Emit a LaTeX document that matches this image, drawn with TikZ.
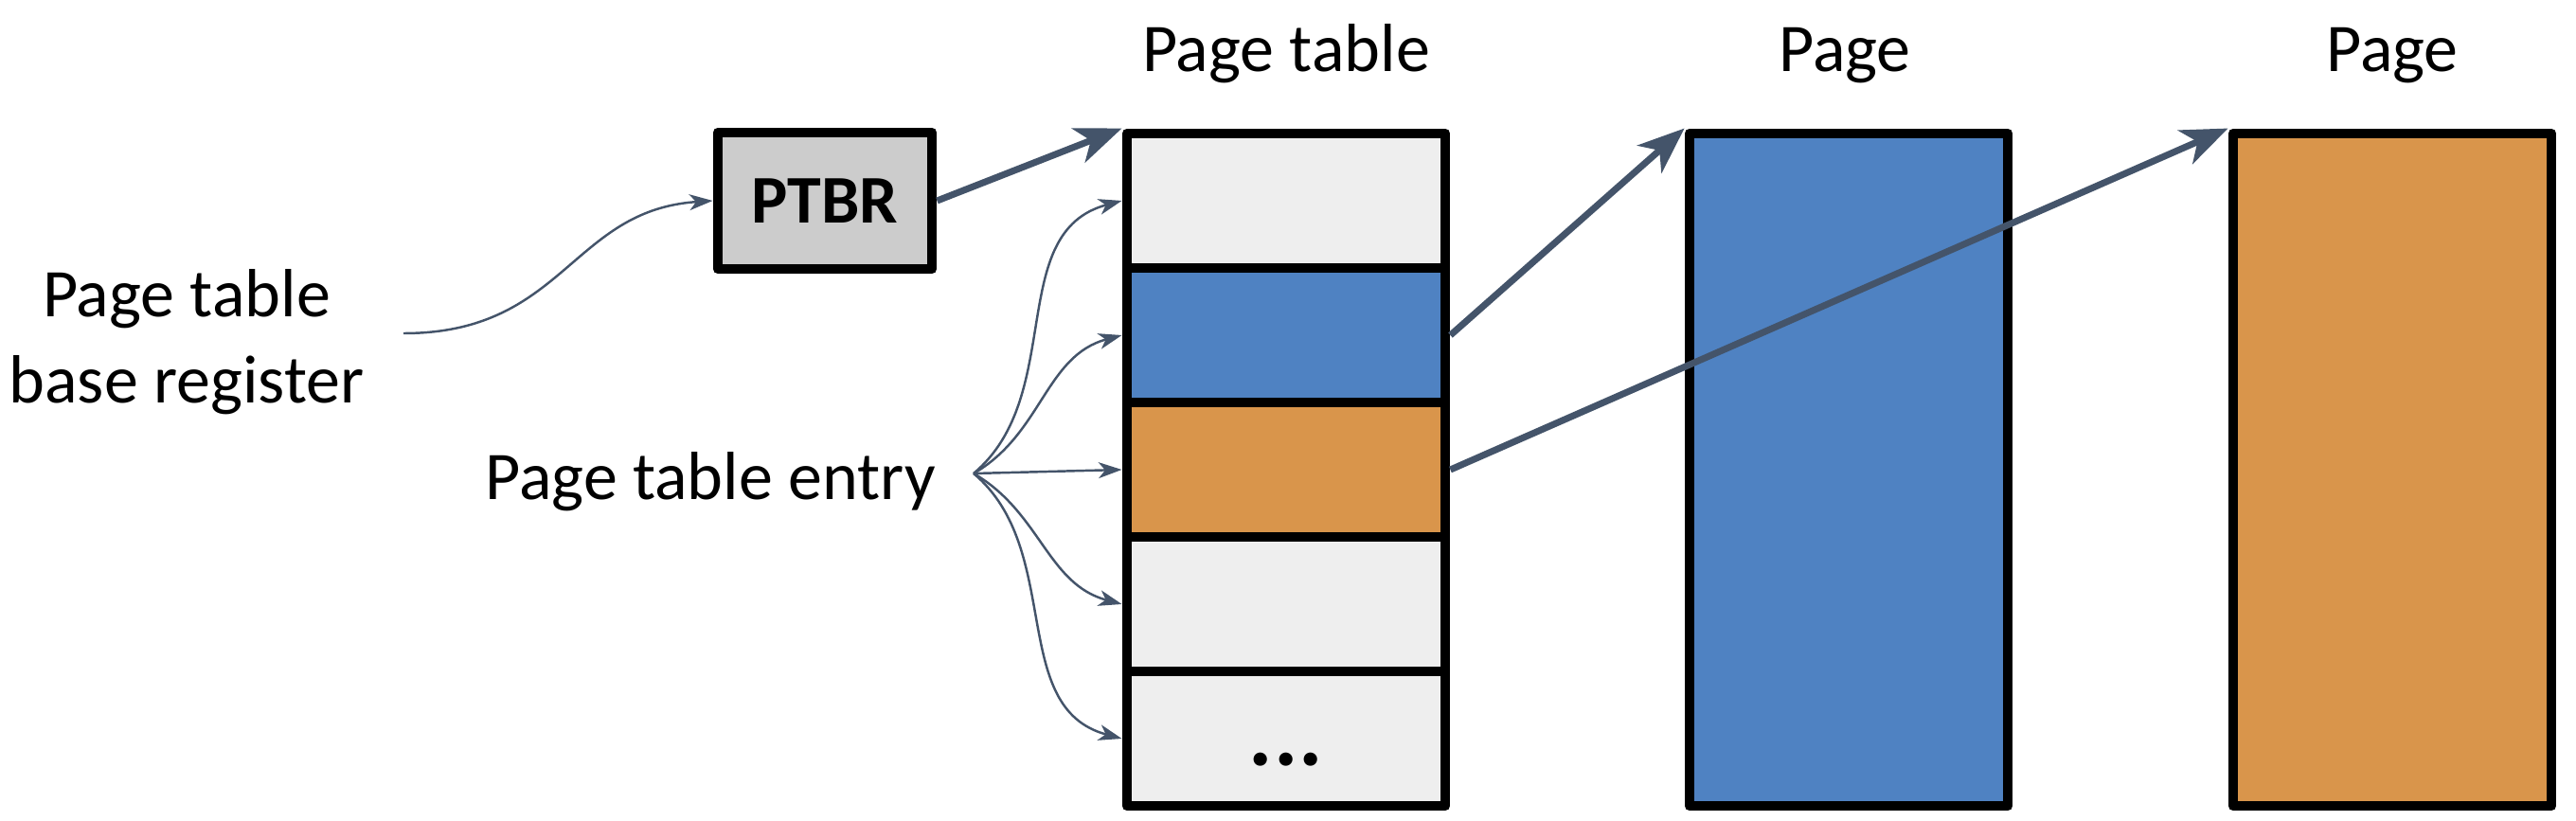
\documentclass[tikz,border=0pt]{standalone}
\usepackage{fontspec}
\setmainfont{Carlito}
\usetikzlibrary{arrows.meta}
\definecolor{slate}{HTML}{44546A}
\definecolor{regfill}{HTML}{CCCCCC}
\definecolor{entryfill}{HTML}{EEEEEE}
\definecolor{pageblue}{HTML}{4F82C2}
\definecolor{pageorange}{HTML}{D9954B}
\begin{document}
\begin{tikzpicture}[x=1cm,y=1cm,font=\fontsize{20.5}{25.8}\selectfont,
  cell/.style={draw=black,line width=3.1pt,line join=round,minimum width=3.36cm,minimum height=1.42cm,inner sep=0pt},
  pagebox/.style={cell,minimum height=7.10cm},
  bigarrow/.style={-{Stealth[length=14pt,width=11pt,inset=4pt]},draw=slate,line width=2pt},
  smallarrow/.style={-{Stealth[length=7pt,width=4.8pt,inset=2pt]},draw=slate,line width=0.7pt}]
\useasboundingbox (0,0) rectangle (27.2,8.66);

\node[cell,fill=entryfill] (e1) at (13.58,6.54) {};
\node[cell,fill=pageblue] (e2) at (13.58,5.12) {};
\node[cell,fill=pageorange] (e3) at (13.58,3.70) {};
\node[cell,fill=entryfill] (e4) at (13.58,2.28) {};
\node[cell,fill=entryfill] (e5) at (13.58,0.86) {};
\node[anchor=base] (dots) at (13.58,0.58) {\fontsize{27}{30}\selectfont\bfseries .\kern0.3pt.\kern0.3pt.};

\node[pagebox,fill=pageblue] (page1) at (19.52,3.70) {};
\node[pagebox,fill=pageorange] (page2) at (25.26,3.70) {};

\node[anchor=base] (ptlabel) at (13.58,7.90) {Page table};
\node[anchor=base] (p1label) at (19.48,7.90) {Page};
\node[anchor=base] (p2label) at (25.26,7.90) {Page};

\node[cell,fill=regfill,minimum width=2.26cm,minimum height=1.44cm] (ptbr) at (8.71,6.54) {\bfseries PTBR};
\node[align=center] (ptbrlabel) at (1.97,5.05) {Page table\\base register};
\node[anchor=base] (pte) at (7.50,3.38) {Page table entry};

\coordinate (regstart) at (4.26,5.14);
\coordinate (fan) at (10.28,3.66);

\draw[smallarrow] (regstart) .. controls +(1.7,0) and +(-1.5,-0.1) .. (ptbr.west);

\draw[smallarrow] (fan) to[out=40,in=195] (e1.west);
\draw[smallarrow] (fan) to[out=30,in=195] (e2.west);
\draw[smallarrow] (fan) -- (e3.west);
\draw[smallarrow] (fan) to[out=-30,in=165] (e4.west);
\draw[smallarrow] (fan) to[out=-40,in=165] (e5.west);

\draw[bigarrow] (ptbr.east) -- (e1.north west);
\draw[bigarrow] (e2.east) -- (page1.north west);
\draw[bigarrow] (e3.east) -- (page2.north west);
\end{tikzpicture}
\end{document}
